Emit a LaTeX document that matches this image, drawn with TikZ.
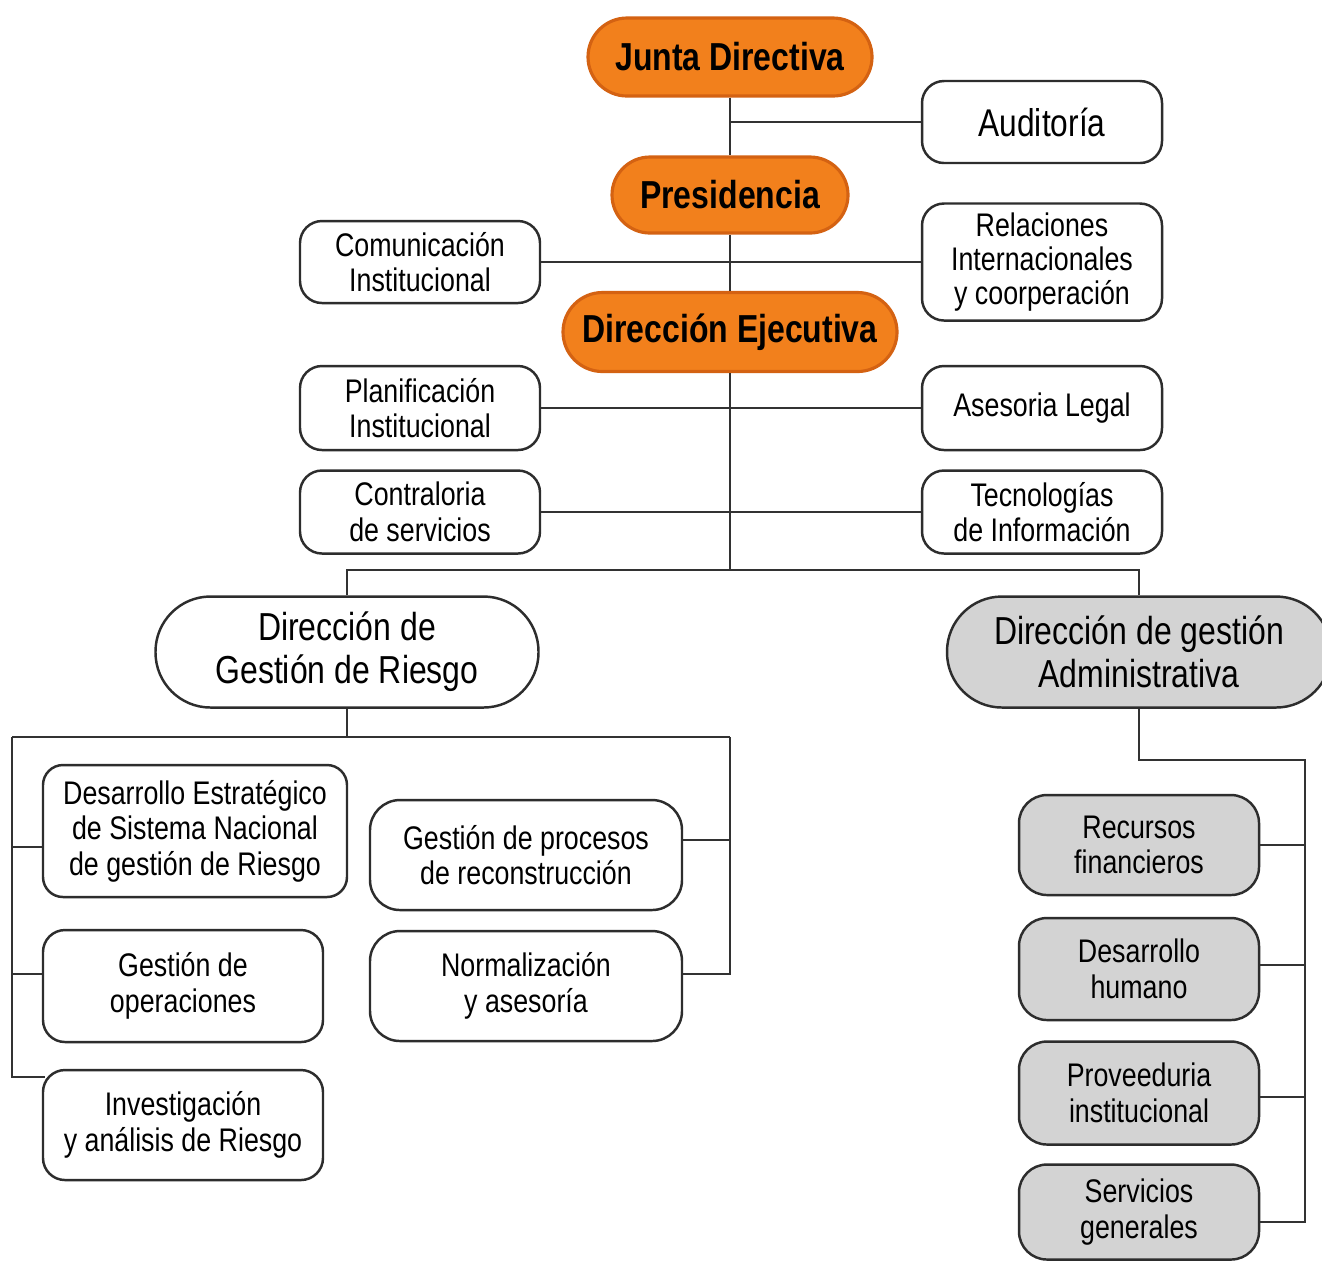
\documentclass[tikz,border=0pt]{standalone}
\usepackage{fontspec}
\setmainfont{Liberation Sans}[FakeStretch=0.82]
\usetikzlibrary{calc}
\definecolor{boxorange}{RGB}{242,128,28}
\definecolor{orangeedge}{RGB}{212,98,18}
\definecolor{boxgray}{RGB}{211,211,211}
\definecolor{edge}{RGB}{45,45,45}
\definecolor{wire}{RGB}{50,50,50}
\begin{document}
\begin{tikzpicture}[x=0.1mm,y=-0.1mm,
  wh/.style 2 args={minimum width=#1mm, minimum height=#2mm},
  unit/.style={align=center, inner sep=0pt, text=black},
  headbox/.style={unit, draw=orangeedge, fill=boxorange, line width=0.9pt,
    font=\fontsize{11.1}{12.5}\selectfont\bfseries},
  officebox/.style={unit, draw=edge, fill=white, line width=0.7pt,
    rounded corners=2.2mm, font=\fontsize{9.3}{10.1}\selectfont},
  bigbox/.style={unit, draw=edge, line width=0.7pt,
    font=\fontsize{11.1}{12.2}\selectfont},
  adminbox/.style={officebox, fill=boxgray, rounded corners=2.8mm},
  wiring/.style={draw=wire, line width=0.7pt}]

\clip (0,0) rectangle (1322,1262);
\fill[white] (0,0) rectangle (1322,1262);

% top management
\node[headbox, wh={28.4}{7.8}, rounded corners=3.9mm] (junta) at (730,57) {Junta Directiva};
\node[headbox, wh={23.6}{7.6}, rounded corners=3.8mm] (presid) at (730,195) {Presidencia};
\node[headbox, wh={33.4}{7.9}, rounded corners=3.95mm] (ejec) at (730,332) {Dirección Ejecutiva};

% staff units
\node[officebox, wh={24}{8.2}, font=\fontsize{11}{12}\selectfont] (audit) at (1042,122) {Auditoría};
\node[officebox, wh={24}{11.7}, font=\fontsize{9.3}{9.8}\selectfont] (rel) at (1042,262) {Relaciones\\Internacionales\\y coorperación};
\node[officebox, wh={24}{8.2}] (com) at (420,262) {Comunicación\\Institucional};
\node[officebox, wh={24}{8.4}] (plan) at (420,408) {Planificación\\Institucional};
\node[officebox, wh={24}{8.4}] (ase) at (1042,408) {Asesoria Legal};
\node[officebox, wh={24}{8.3}] (contra) at (420,512) {Contraloria\\de servicios};
\node[officebox, wh={24}{8.3}] (tec) at (1042,512) {Tecnologías\\de Información};

% line directorates
\node[bigbox, fill=white, wh={38.3}{11.1}, rounded corners=5.5mm] (riesgo) at (347,652) {Dirección de\\Gestión de Riesgo};
\node[bigbox, fill=boxgray, wh={38.4}{11.1}, rounded corners=5.5mm] (admin) at (1139,652) {Dirección de gestión\\Administrativa};

% risk management units
\node[officebox, wh={30.4}{13.2}, rounded corners=2mm] (desest) at (195,831) {Desarrollo Estratégico\\de Sistema Nacional\\de gestión de Riesgo};
\node[officebox, wh={28}{11.2}] (gop) at (183,986) {Gestión de\\operaciones};
\node[officebox, wh={28}{11}] (inv) at (183,1125) {Investigación\\y análisis de Riesgo};
\node[officebox, wh={31.2}{11}, rounded corners=3mm] (gproc) at (526,855) {Gestión de procesos\\de reconstrucción};
\node[officebox, wh={31.2}{11}, rounded corners=3mm] (norm) at (526,986) {Normalización\\y asesoría};

% administrative units
\node[adminbox, wh={24}{10}] (recfin) at (1139,845) {Recursos\\financieros};
\node[adminbox, wh={24}{10.2}] (deshum) at (1139,969) {Desarrollo\\humano};
\node[adminbox, wh={24}{10.3}] (prov) at (1139,1093) {Proveeduria\\institucional};
\node[adminbox, wh={24}{9.5}] (serv) at (1139,1212) {Servicios\\generales};

% junction points of the trees
\coordinate (split) at (730,570);
\coordinate (lbl) at (12,737);
\coordinate (lbr) at (730,737);
\coordinate (rbt) at (1305,760);
\coordinate (rbb) at (1305,1222);

% main spine
\draw[wiring] (junta.south) -- (presid.north);
\draw[wiring] (presid.south) -- (ejec.north);
\draw[wiring] (ejec.south) -- (split);
\draw[wiring] (audit.west) -- (audit.west -| junta.south);
\draw[wiring] (com.east) -- (rel.west);
\draw[wiring] (plan.east) -- (ase.west);
\draw[wiring] (contra.east) -- (tec.west);
\draw[wiring] (riesgo.north) |- (split) -| (admin.north);

% risk management tree
\draw[wiring] (riesgo.south) -- (riesgo.south |- lbl);
\draw[wiring] (lbl) -- (lbr);
\draw[wiring] (lbl) |- ($(inv.north west)+(3,8)$);
\draw[wiring] ($(desest.west)+(0,16)$) -- (lbl |- {$(desest.west)+(0,16)$});
\draw[wiring] ($(gop.west)+(0,-12)$) -- (lbl |- {$(gop.west)+(0,-12)$});
\draw[wiring] (lbr) |- ($(norm.east)+(0,-12)$);
\draw[wiring] ($(gproc.east)+(0,-15)$) -- (lbr |- {$(gproc.east)+(0,-15)$});

% administrative tree
\draw[wiring] (admin.south) |- (rbt) -- (rbb) -- ($(serv.east)+(0,10)$);
\draw[wiring] (recfin.east) -- (recfin.east -| rbt);
\draw[wiring] ($(deshum.east)+(0,-4)$) -- (rbt |- {$(deshum.east)+(0,-4)$});
\draw[wiring] ($(prov.east)+(0,4)$) -- (rbt |- {$(prov.east)+(0,4)$});
\end{tikzpicture}
\end{document}
